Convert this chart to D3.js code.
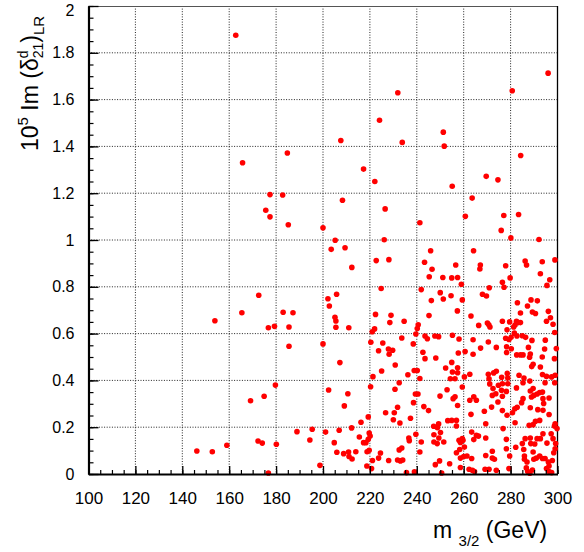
<!DOCTYPE html>
<html>
<head>
<meta charset="utf-8">
<script src="https://cdn.jsdelivr.net/npm/d3@7/dist/d3.min.js"></script>
<style>
  body { margin: 0; background: #fff; }
  text { font-family: "Liberation Sans", Arial, sans-serif; fill: #000; }
</style>
</head>
<body>
<svg id="chart" width="584" height="552"></svg>
<script>
// axis ranges and ticks
const xDomain = [100, 300];
const yDomain = [0, 2];
const xTicks = [100, 120, 140, 160, 180, 200, 220, 240, 260, 280, 300];
const yTicks = [0, 0.2, 0.4, 0.6, 0.8, 1, 1.2, 1.4, 1.6, 1.8, 2];

// scan points: m_3/2 (GeV) and 10^5 Im(delta^d_21)_LR, same order
const m32 = [
  162.8, 184.8, 165.7, 177.4, 182.8, 175.6, 177.4, 185.2, 200.0,
  203.5, 172.6, 202.1, 202.7, 165.4, 183.0, 187.2, 153.9, 176.7, 179.3, 185.5, 185.5, 200.0, 179.7, 174.9, 169.1, 202.4,
  188.9, 195.4, 201.1, 194.4, 172.3, 174.1, 180.1, 159.0, 152.8, 146.2, 198.7, 176.7,
  296.0, 280.7, 231.9, 224.1, 251.3, 207.6, 233.8, 251.7, 284.3, 217.3, 269.6, 274.6, 222.1, 255.1, 208.3, 263.6,
  226.5, 260.7, 277.1, 283.4, 241.3, 276.0, 280.1, 292.1, 205.2, 226.1, 209.4, 245.9, 264.2,
  212.3, 222.7, 228.1, 243.3, 246.5, 245.3, 251.1, 224.8, 241.9, 205.8, 250.0, 246.2, 251.3, 205.1, 205.5, 222.4,
  229.0, 245.2, 228.5, 234.6, 205.5, 211.0, 222.0, 221.0, 240.6, 240.2, 239.6, 233.6, 243.5, 244.5, 247.7, 249.3,
  220.4, 225.5, 238.5, 227.9, 229.7, 223.7, 228.2, 242.6, 243.5, 248.1, 207.2, 230.8,
  256.6, 267.1, 266.9, 277.9, 286.2, 286.8, 293.5, 298.9, 292.7, 254.9, 257.4, 259.0, 270.9, 276.5, 277.2, 279.8,
  296.7, 295.5, 254.6, 259.4, 268.0, 269.7, 257.3, 282.9, 288.7, 291.4, 287.2, 284.2, 289.3, 290.6, 296.1, 297.0,
  295.3, 298.1, 298.8, 263.1, 266.4, 270.1, 270.7, 271.2, 276.5, 279.6, 282.5, 283.3, 284.2, 281.9, 281.3, 278.5,
  281.6, 255.2, 258.0, 264.0, 270.5, 277.9, 279.3, 280.2, 282.7, 285.0, 286.4, 289.1, 294.8, 299.5, 273.9, 267.2,
  278.3, 280.3, 287.6, 294.5, 257.7, 260.6, 264.0, 278.3, 282.6, 284.2, 285.3, 288.4, 288.1, 293.5, 298.7, 254.9, 289.6,
  225.0, 221.3, 236.2, 238.9, 240.2, 241.3, 232.5, 220.3, 230.7, 210.6, 239.4, 240.5, 249.9, 238.6, 209.1, 231.8,
  243.0, 245.0, 226.7, 230.4, 219.3, 230.0, 232.8, 237.3, 216.2, 247.2, 249.3, 248.8, 206.9, 212.2, 219.7, 220.1,
  219.3, 218.3, 215.5, 217.3, 204.8, 236.6, 236.8, 239.6, 241.9, 247.3, 247.3, 250.1, 249.4, 248.7, 205.9, 208.8,
  210.9, 211.1, 212.4, 214.0, 219.7, 218.8, 224.5, 223.7, 221.1, 228.0, 232.5, 233.6, 231.8, 233.0, 234.0, 241.3,
  249.7, 247.9, 218.7, 220.7, 235.6, 239.0, 250.6,
  252.3, 257.4, 255.2, 257.4, 254.3, 256.3, 260.3, 262.6, 270.5, 272.8, 273.9, 276.2, 278.6, 278.8, 270.8, 283.6,
  285.7, 289.0, 292.7, 293.6, 295.3, 297.5, 299.0, 252.9, 259.4, 271.1, 272.5, 274.8, 276.5, 276.1, 273.7, 276.5,
  272.2, 278.8, 278.2, 282.5, 285.3, 288.2, 289.6, 288.4, 291.3, 292.4, 293.6, 289.9, 288.9, 293.8, 296.4, 298.8,
  294.7, 255.5, 256.3, 257.4, 262.6, 264.3, 265.4, 263.1, 268.8, 271.9, 274.6, 276.5, 278.5, 280.8, 281.8, 282.8,
  281.9, 284.7, 285.3, 288.4, 291.6, 293.8, 294.1, 296.4, 287.9, 289.6, 290.6, 292.4, 269.4, 276.8, 253.2, 254.9,
  256.9, 256.9, 299.0, 298.7, 251.5, 258.0, 258.6, 259.7, 260.3, 259.4, 263.4, 264.3, 265.4, 266.3, 269.4, 278.2,
  285.0, 286.2, 288.4, 288.6, 290.3, 291.3, 292.7, 293.8, 295.5, 297.3, 298.1, 299.2, 299.8, 256.9, 258.6, 260.0,
  261.4, 263.4, 258.3, 269.4, 272.2, 272.2, 273.1, 278.2, 279.6, 282.2, 285.6, 285.9, 287.0, 285.9, 289.6, 289.9,
  291.0, 293.6, 292.4, 294.7, 296.4, 296.1, 298.4, 299.0, 297.8, 254.0, 258.6, 262.3, 263.7, 264.6, 269.1, 270.8,
  273.9, 279.3, 286.7, 287.3, 288.2, 289.3, 295.3, 296.4, 297.5
];
const imDelta = [
  1.875, 1.372, 1.330, 1.194, 1.192, 1.127, 1.099, 1.065, 1.052,
  0.960, 0.764, 0.749, 0.718, 0.689, 0.691, 0.689, 0.655, 0.625, 0.631, 0.628, 0.546, 0.556, 0.380, 0.332, 0.313, 0.359,
  0.181, 0.191, 0.179, 0.145, 0.141, 0.132, 0.127, 0.123, 0.095, 0.098, 0.037, 0.004,
  1.713, 1.638, 1.629, 1.512, 1.461, 1.425, 1.417, 1.401, 1.361, 1.303, 1.272, 1.257, 1.250, 1.230, 1.170, 1.179,
  1.133, 1.101, 1.105, 1.109, 1.074, 1.041, 1.009, 1.002, 0.999, 1.001, 0.967, 0.954, 0.954,
  0.883, 0.912, 0.916, 0.905, 0.875, 0.843, 0.840, 0.793, 0.788, 0.768, 0.775, 0.741, 0.748, 0.670, 0.654, 0.682,
  0.678, 0.677, 0.647, 0.653, 0.627, 0.625, 0.620, 0.608, 0.638, 0.622, 0.598, 0.581, 0.590, 0.578, 0.590, 0.587,
  0.563, 0.560, 0.556, 0.534, 0.529, 0.527, 0.512, 0.520, 0.493, 0.496, 0.476, 0.466,
  0.893, 0.893, 0.876, 0.890, 0.910, 0.893, 0.907, 0.915, 0.856, 0.838, 0.840, 0.811, 0.796, 0.819, 0.798, 0.838,
  0.830, 0.806, 0.762, 0.744, 0.768, 0.761, 0.697, 0.732, 0.744, 0.740, 0.718, 0.688, 0.692, 0.686, 0.695, 0.668,
  0.653, 0.640, 0.605, 0.675, 0.635, 0.645, 0.638, 0.628, 0.653, 0.650, 0.653, 0.647, 0.647, 0.637, 0.628, 0.616,
  0.602, 0.593, 0.577, 0.574, 0.564, 0.580, 0.575, 0.584, 0.590, 0.591, 0.584, 0.571, 0.572, 0.536, 0.541, 0.538,
  0.544, 0.535, 0.541, 0.534, 0.517, 0.523, 0.512, 0.519, 0.509, 0.509, 0.509, 0.513, 0.499, 0.500, 0.493, 0.477, 0.469,
  0.440, 0.416, 0.424, 0.442, 0.442, 0.408, 0.390, 0.373, 0.362, 0.343, 0.342, 0.342, 0.333, 0.305, 0.291, 0.285,
  0.288, 0.271, 0.262, 0.262, 0.244, 0.232, 0.218, 0.238, 0.221, 0.204, 0.214, 0.198, 0.187, 0.197, 0.175, 0.162,
  0.148, 0.134, 0.158, 0.134, 0.134, 0.154, 0.142, 0.170, 0.137, 0.168, 0.137, 0.177, 0.154, 0.130, 0.093, 0.087,
  0.094, 0.075, 0.064, 0.095, 0.101, 0.095, 0.090, 0.068, 0.058, 0.058, 0.103, 0.111, 0.060, 0.056, 0.060, 0.094,
  0.056, 0.040, 0.034, 0.023, 0.006, 0.009, 0.004,
  0.453, 0.454, 0.436, 0.433, 0.407, 0.407, 0.415, 0.426, 0.426, 0.432, 0.439, 0.413, 0.430, 0.410, 0.407, 0.422,
  0.410, 0.459, 0.457, 0.425, 0.417, 0.415, 0.422, 0.360, 0.372, 0.385, 0.365, 0.379, 0.386, 0.358, 0.343, 0.332,
  0.336, 0.386, 0.353, 0.368, 0.390, 0.397, 0.365, 0.355, 0.342, 0.348, 0.350, 0.336, 0.329, 0.322, 0.325, 0.390,
  0.390, 0.322, 0.330, 0.293, 0.315, 0.330, 0.315, 0.255, 0.268, 0.286, 0.308, 0.271, 0.251, 0.262, 0.279, 0.285,
  0.219, 0.305, 0.322, 0.283, 0.275, 0.272, 0.301, 0.254, 0.208, 0.211, 0.225, 0.229, 0.215, 0.194, 0.228, 0.229,
  0.229, 0.205, 0.215, 0.205, 0.137, 0.144, 0.135, 0.144, 0.115, 0.151, 0.179, 0.147, 0.165, 0.162, 0.154, 0.148,
  0.130, 0.151, 0.154, 0.130, 0.128, 0.151, 0.151, 0.172, 0.132, 0.172, 0.151, 0.130, 0.194, 0.091, 0.068, 0.075,
  0.077, 0.066, 0.105, 0.079, 0.097, 0.068, 0.063, 0.108, 0.077, 0.114, 0.105, 0.077, 0.051, 0.063, 0.094, 0.063,
  0.068, 0.066, 0.077, 0.066, 0.034, 0.051, 0.091, 0.108, 0.058, 0.044, 0.028, 0.020, 0.016, 0.011, 0.020, 0.020,
  0.016, 0.023, 0.026, 0.011, 0.003, 0.017, 0.023, 0.011, 0.006
];

const margin = { top: 6, left: 88.5 };
const width = 469, height = 468;

const svg = d3.select("#chart");
const plot = svg.append("g").attr("transform", "translate(" + margin.left + "," + margin.top + ")");

const x = d3.scaleLinear().domain(xDomain).range([0, width]);
const y = d3.scaleLinear().domain(yDomain).range([height, 0]);

// dotted grid
plot.append("g").selectAll("line").data(xTicks.slice(1, -1)).join("line")
    .attr("x1", d => x(d)).attr("x2", d => x(d)).attr("y1", 0).attr("y2", height)
    .attr("stroke", "#222").attr("stroke-width", 1).attr("stroke-dasharray", "1,1.6");
plot.append("g").selectAll("line").data(yTicks.slice(1, -1)).join("line")
    .attr("y1", d => y(d)).attr("y2", d => y(d)).attr("x1", 0).attr("x2", width)
    .attr("stroke", "#222").attr("stroke-width", 1).attr("stroke-dasharray", "1,1.6");

// frame: top and right thin
plot.append("line").attr("x1", 0).attr("x2", width).attr("y1", 0.5).attr("y2", 0.5)
    .attr("stroke", "#555").attr("stroke-width", 1.2);
plot.append("line").attr("x1", width).attr("x2", width).attr("y1", 0).attr("y2", height)
    .attr("stroke", "#000").attr("stroke-width", 1.3);

// points
plot.append("g").selectAll("circle").data(m32.map((m, i) => [m, imDelta[i]])).join("circle")
    .attr("cx", d => x(d[0])).attr("cy", d => y(d[1])).attr("r", 2.8)
    .attr("fill", "#ff0000");

// minor ticks
const xMinor = d3.range(100, 301, 5);
const yMinor = d3.range(0, 2.001, 0.05);
plot.append("g").attr("transform", "translate(0," + height + ")")
    .call(d3.axisBottom(x).tickValues(xMinor).tickSize(-4).tickFormat(""))
    .call(g => g.select(".domain").remove())
    .selectAll("line").attr("stroke-width", 1.2);
plot.append("g")
    .call(d3.axisLeft(y).tickValues(yMinor).tickSize(-5).tickFormat(""))
    .call(g => g.select(".domain").remove())
    .selectAll("line").attr("stroke-width", 1.2);

// major ticks + labels
const xAxis = plot.append("g").attr("transform", "translate(0," + height + ")")
    .call(d3.axisBottom(x).tickValues(xTicks).tickSizeInner(-8).tickSizeOuter(0).tickPadding(18));
xAxis.select(".domain").attr("stroke-width", 2.2);
xAxis.selectAll("line").attr("stroke-width", 1.3);
xAxis.selectAll("text").attr("font-size", 17).attr("font-family", "Liberation Sans, Arial, sans-serif");

const yAxis = plot.append("g")
    .call(d3.axisLeft(y).tickValues(yTicks).tickSizeInner(-10).tickSizeOuter(0).tickPadding(14)
        .tickFormat(d3.format("~g")));
yAxis.select(".domain").attr("stroke-width", 2.2);
yAxis.selectAll("line").attr("stroke-width", 1.3);
yAxis.selectAll("text").attr("font-size", 16).attr("font-family", "Liberation Sans, Arial, sans-serif");
// top label sits a bit lower so it stays inside the page
yAxis.selectAll(".tick").filter(d => d === 2).select("text").attr("dy", "0.6em");

// x axis title
const xTitle = svg.append("text").attr("x", 433).attr("y", 538).attr("font-size", 23);
xTitle.append("tspan").text("m ");
xTitle.append("tspan").attr("font-size", 15).attr("dy", 8).text("3/2");
xTitle.append("tspan").attr("dy", -8).text(" (GeV)");

// y axis title
const yTitle = svg.append("text").attr("transform", "translate(38,151) rotate(-90)")
    .attr("font-size", 23);
yTitle.append("tspan").text("10");
yTitle.append("tspan").attr("font-size", 15).attr("dy", -10).text("5");
yTitle.append("tspan").attr("dy", 10).text(" Im (");
yTitle.append("tspan").text("\u03b4");
yTitle.append("tspan").attr("font-size", 14).attr("dy", -10).text("d");
yTitle.append("tspan").attr("font-size", 14).attr("dx", -7.8).attr("dy", 15).text("21");
yTitle.append("tspan").attr("dy", -5).text(")");
yTitle.append("tspan").attr("font-size", 15).attr("dy", 6).text("LR");
</script>
</body>
</html>
